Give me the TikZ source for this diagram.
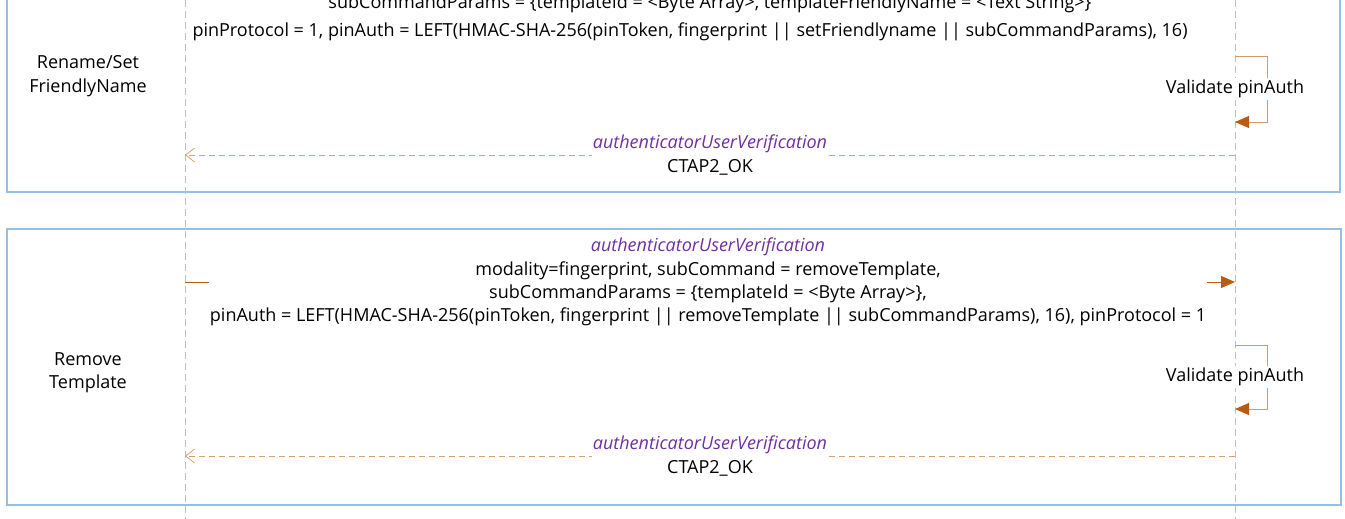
\documentclass[tikz,border=0pt]{standalone}
\usepackage{fontspec}
\setmainfont{Open Sans}
\usetikzlibrary{arrows.meta}
\definecolor{boxblue}{HTML}{94C0E6}
\definecolor{lifegray}{HTML}{BFBFBF}
\definecolor{arrorange}{HTML}{B85C14}
\definecolor{looptan}{HTML}{D09A6A}
\definecolor{rettan}{HTML}{D9A06A}
\definecolor{msgpurple}{HTML}{7030A0}
\tikzset{
  fragbox/.style={draw=boxblue, line width=1.2pt},
  lifeline/.style={draw=lifegray, dashed, dash pattern=on 7pt off 4pt, line width=0.8pt},
  req/.style={draw=arrorange, line width=1pt, -{Triangle[length=14pt,width=12pt]}},
  selfloop/.style={draw=looptan, line width=1pt, -{Triangle[length=14pt,width=12pt,color=arrorange]}},
  ret/.style={draw=rettan, dashed, dash pattern=on 6pt off 4pt, line width=0.9pt, -{Straight Barb[length=9pt,width=14pt,line width=0.8pt]}},
  txt/.style={font=\fontsize{18pt}{23pt}\selectfont, text=black, inner sep=1pt},
  msglbl/.style={font=\fontsize{18pt}{23.3pt}\selectfont, align=center, fill=white, inner sep=2pt},
  grouplbl/.style={font=\fontsize{18pt}{23.3pt}\selectfont, align=center},
}
\begin{document}
\begin{tikzpicture}[x=1pt,y=-1pt]
\useasboundingbox (0,0) rectangle (1345,519);
\clip (0,0) rectangle (1345,519);
% fragment boxes
\coordinate (b1a) at (7,-20); \coordinate (b1b) at (1340,192);
\coordinate (b2a) at (7,229); \coordinate (b2b) at (1341,505);
\draw[fragbox] (b1a) rectangle (b1b);
\draw[fragbox] (b2a) rectangle (b2b);
% lifelines
\coordinate (LT) at (185,0); \coordinate (LB) at (185,519);
\coordinate (RT) at (1235,0); \coordinate (RB) at (1235,519);
\draw[lifeline] (LT) -- (LB);
\draw[lifeline] (RT) -- (RB);
% group labels
\node[grouplbl] (g1) at (88,76) {Rename/Set\\FriendlyName};
\node[grouplbl] (g2) at (88,373) {Remove\\Template};
% ---- first fragment ----
\node[msglbl, fill=none] (m1a) at (710,4) {subCommandParams = \{templateId = <Byte Array>, templateFriendlyName = <Text String>\}};
\node[msglbl, fill=none] (m1b) at (690,32) {pinProtocol = 1, pinAuth = LEFT(HMAC-SHA-256(pinToken, fingerprint || setFriendlyname || subCommandParams), 16)};
% self loop 1
\coordinate (s1a) at (1235,57); \coordinate (s1b) at (1267,57);
\coordinate (s1c) at (1267,122); \coordinate (s1d) at (1235,122);
\draw[selfloop] (s1a) -- (s1b) -- (s1c) -- (s1d);
\node[txt, fill=white, inner sep=2pt] (v1) at (1235,89) {Validate pinAuth};
% return 1
\coordinate (r1R) at (1235,155); \coordinate (r1L) at (185,155);
\draw[ret] (r1R) -- (r1L);
\node[msglbl, inner sep=1pt] (rl1) at (710,155) {\textcolor{msgpurple}{\itshape authenticatorUserVerification}\\CTAP2\_OK};
% ---- second fragment ----
\coordinate (a2L) at (185,282); \coordinate (a2R) at (1235,282);
\draw[req] (a2L) -- (a2R);
\node[msglbl, inner sep=1pt] (m2) at (708,282) {\textcolor{msgpurple}{\itshape authenticatorUserVerification}\\modality=fingerprint, subCommand = removeTemplate,\\subCommandParams = \{templateId = <Byte Array>\},\\pinAuth = LEFT(HMAC-SHA-256(pinToken, fingerprint || removeTemplate || subCommandParams), 16), pinProtocol = 1};
% self loop 2
\coordinate (s2a) at (1235,345); \coordinate (s2b) at (1267,345);
\coordinate (s2c) at (1267,409); \coordinate (s2d) at (1235,409);
\draw[selfloop] (s2a) -- (s2b) -- (s2c) -- (s2d);
\node[txt, fill=white, inner sep=2pt] (v2) at (1235,377) {Validate pinAuth};
% return 2
\coordinate (r2R) at (1235,456); \coordinate (r2L) at (185,456);
\draw[ret] (r2R) -- (r2L);
\node[msglbl, inner sep=1pt] (rl2) at (710,456) {\textcolor{msgpurple}{\itshape authenticatorUserVerification}\\CTAP2\_OK};
\end{tikzpicture}
\end{document}
